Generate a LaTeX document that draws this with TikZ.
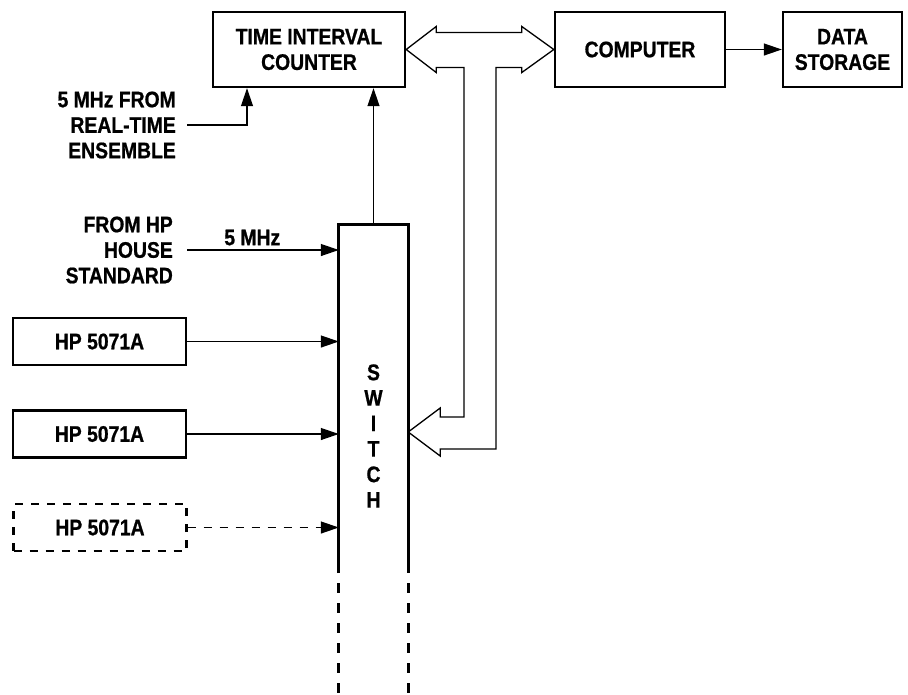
\documentclass[tikz,border=0pt]{standalone}
\usepackage{fontspec}
\setmainfont{Liberation Sans}[FakeStretch=0.86, BoldFeatures={FakeBold=0.8}]
\usetikzlibrary{arrows.meta,positioning,calc}

\begin{document}
\begin{tikzpicture}[x=1pt, y=-1pt,
    every node/.style={font=\fontsize{22.5}{25.5}\selectfont\bfseries},
    box/.style={draw, line width=2.4pt, minimum width=170pt, minimum height=75pt, align=center, inner sep=0pt},
    hpbox/.style={box, minimum width=173pt, minimum height=47pt},
    lbl/.style={align=right, inner sep=0pt, anchor=east},
    arrow/.style={-{Triangle[length=18pt,width=12pt]}, line width=1.2pt},
    bus/.style={line width=1.3pt},
    swline/.style={line width=3pt}
]
\path[use as bounding box, fill=white] (0,0) rectangle (908,694);
\node[box, minimum width=192pt] (tic) at (309,49.5) {TIME INTERVAL\\COUNTER};
\node[box] (comp) at (640,49.5) {COMPUTER};
\node[box, minimum width=119pt] (store) at (842.5,49.5) {DATA\\STORAGE};
\node[minimum width=69pt, minimum height=348pt, inner sep=0pt] (sw) at (373.5,399) {};
\node[align=center, inner sep=0pt] (swtext) at (373.5,436) {S\\W\\I\\T\\C\\H};
\node[lbl] (rte) at (176,125) {5 MHz FROM\\REAL-TIME\\ENSEMBLE};
\node[lbl] (house) at (173,250) {FROM HP\\HOUSE\\STANDARD};
\node[hpbox] (hpa) at (99.5,341.5) {HP 5071A};
\node[hpbox] (hpb) at (99.5,434) {HP 5071A};
\node[hpbox, dash pattern=on 8pt off 8pt] (hpc) at (100,527.5) {HP 5071A};
\coordinate (swbot) at (0,694);
\coordinate (swin) at ($(sw.east)+(0,33)$);
\coordinate (stemL) at (464,67.5);
\coordinate (stemR) at (496,67.5);

\draw[swline] (sw.south west) -- (sw.north west) -- (sw.north east) -- (sw.south east);
\draw[swline, dash pattern=on 10pt off 10pt, dash phase=10pt] (sw.south west) -- (sw.south west |- swbot);
\draw[swline, dash pattern=on 10pt off 10pt, dash phase=10pt] (sw.south east) -- (sw.south east |- swbot);

\draw[arrow] ([xshift=11pt]rte.east) -| ([xshift=-62pt]tic.south);
\draw[arrow] ([xshift=14pt]house.east) -- node[above, pos=0.43, inner sep=4pt] {5 MHz} (house.east -| sw.west);
\draw[arrow] (hpa) -- (hpa -| sw.west);
\draw[arrow] (hpb) -- (hpb -| sw.west);
\draw[arrow, dash pattern=on 8pt off 8pt] (hpc) -- (hpc -| sw.west);
\draw[arrow] (sw.north) -- (sw.north |- tic.south);
\draw[arrow] (comp) -- (store);

\draw[bus] (tic.east) -- ++(30,-23) -- ++(0,6) -- ($(comp.west)+(-32,-17)$) -- ++(0,-6)
    -- (comp.west) -- ++(-32,23) -- ++(0,-5) -- (stemR) -- ($(stemR |- swin)+(0,17)$)
    -- ($(swin)+(32,17)$) -- ++(0,7) -- (swin) -- ++(32,-24) -- ++(0,9)
    -- ($(stemL |- swin)+(0,-15)$) -- (stemL) -- ($(tic.east)+(30,18)$) -- ++(0,5) -- cycle;
\end{tikzpicture}
\end{document}
